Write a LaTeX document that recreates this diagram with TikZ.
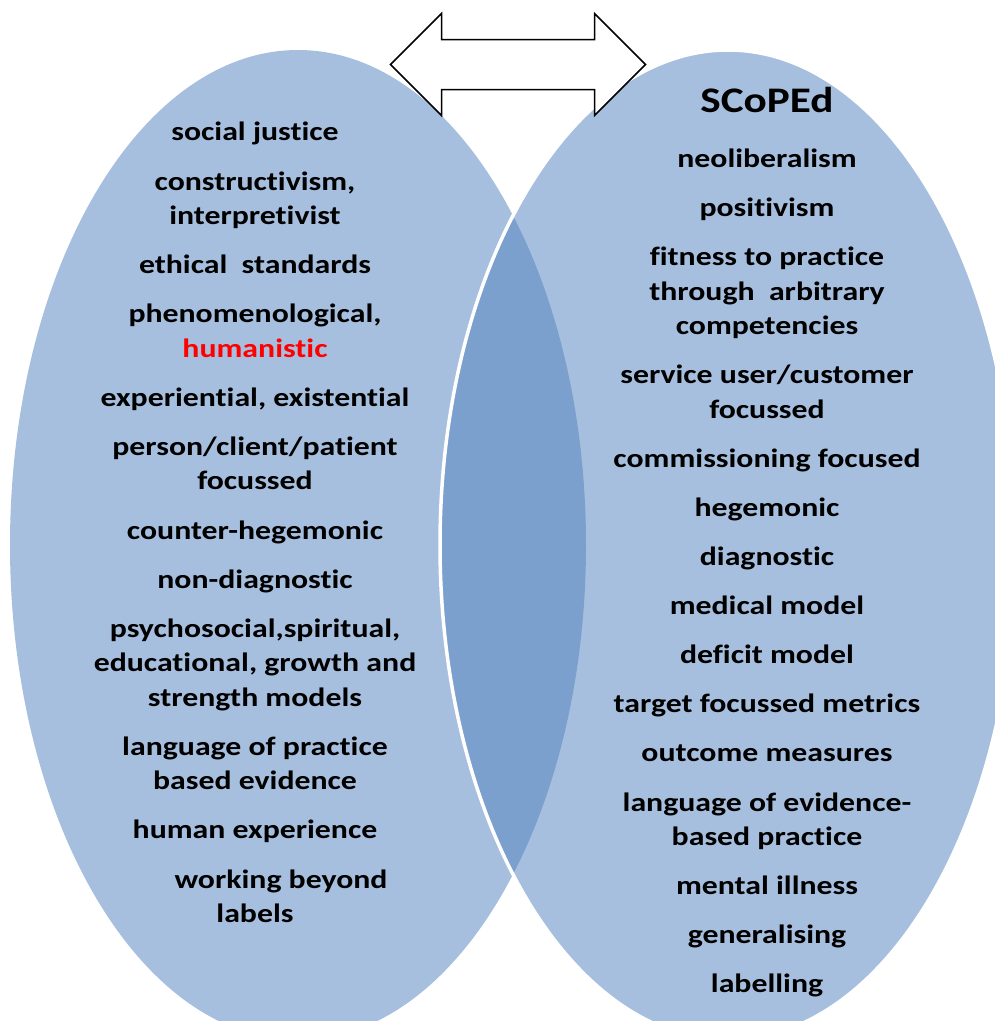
\documentclass[tikz,border=0pt]{standalone}
\usepackage{fontspec}
\setmainfont{Carlito}[FakeStretch=1.2,Ligatures=NoCommon]
\usepackage{tikz}
\usepackage{xcolor}
\usetikzlibrary{positioning}
\definecolor{vennblue}{RGB}{167,191,222}
\definecolor{lensblue}{RGB}{123,160,205}
% every line of a term gets the same height
\newcommand{\term}[1]{\strut#1\strut}

\begin{document}
\begin{tikzpicture}[x=1pt,y=-1pt,node distance=14.2pt,
    term node/.style={align=center,inner sep=0pt,font=\fontsize{26.5}{34.5}\selectfont\bfseries},
    title node/.style={inner sep=0pt,font=\fontsize{36}{43}\selectfont\bfseries}]

    \clip (0,0) rectangle (995,1021);

    % the two sets and their overlap
    \fill[vennblue] (298,545) ellipse [x radius=288,y radius=495];
    \fill[vennblue] (728,545) ellipse [x radius=288,y radius=495];
    \begin{scope}
        \clip (298,545) ellipse [x radius=288,y radius=495];
        \fill[lensblue] (728,545) ellipse [x radius=288,y radius=495];
    \end{scope}
    \draw[white,line width=3.5pt] (728,545) ellipse [x radius=288,y radius=495];

    % double arrow
    \draw[fill=white,line width=1.5pt,line join=miter]
        (390.5,64.5) -- (441.5,13.5) -- (441.5,39.5) -- (594.5,39.5) -- (594.5,13.5)
        -- (645.5,64.5) -- (594.5,115.5) -- (594.5,89.5) -- (441.5,89.5) -- (441.5,115.5) -- cycle;

    % left set
    \node[term node] (l1) at (255,134) {\term{social justice}};
    \node[term node,below=of l1] (l2) {\term{constructivism,\\interpretivist}};
    \node[term node,below=of l2] (l3) {\term{ethical~ standards}};
    \node[term node,below=of l3] (l4) {\term{phenomenological,\\{\color{red}humanistic}}};
    \node[term node,below=of l4] (l5) {\term{experiential, existential}};
    \node[term node,below=of l5] (l6) {\term{person/client/patient\\focussed}};
    \node[term node,below=of l6] (l7) {\term{counter-hegemonic}};
    \node[term node,below=of l7] (l8) {\term{non-diagnostic}};
    \node[term node,below=of l8] (l9) {\term{psychosocial,spiritual,\\educational, growth and\\strength models}};
    \node[term node,below=of l9] (l10) {\term{language of practice\\based evidence}};
    \node[term node,below=of l10] (l11) {\term{human experience}};
    \node[term node,below=of l11] (l12) {\term{\hspace*{52pt}working beyond\\labels}};

    % right set
    \node[term node] (r1) at (767,160.5) {\term{neoliberalism}};
    \node[title node,above=30pt of r1] (r0) {SCoPEd};
    \node[term node,below=of r1] (r2) {\term{positivism}};
    \node[term node,below=of r2] (r3) {\term{fitness to practice\\through~ arbitrary\\competencies}};
    \node[term node,below=of r3] (r4) {\term{service user/customer\\focussed}};
    \node[term node,below=of r4] (r5) {\term{commissioning focused}};
    \node[term node,below=of r5] (r6) {\term{hegemonic}};
    \node[term node,below=of r6] (r7) {\term{diagnostic}};
    \node[term node,below=of r7] (r8) {\term{medical model}};
    \node[term node,below=of r8] (r9) {\term{deficit model}};
    \node[term node,below=of r9] (r10) {\term{target focussed metrics}};
    \node[term node,below=of r10] (r11) {\term{outcome measures}};
    \node[term node,below=of r11] (r12) {\term{language of evidence-\\based practice}};
    \node[term node,below=of r12] (r13) {\term{mental illness}};
    \node[term node,below=of r13] (r14) {\term{generalising}};
    \node[term node,below=of r14] (r15) {\term{labelling}};
\end{tikzpicture}
\end{document}
